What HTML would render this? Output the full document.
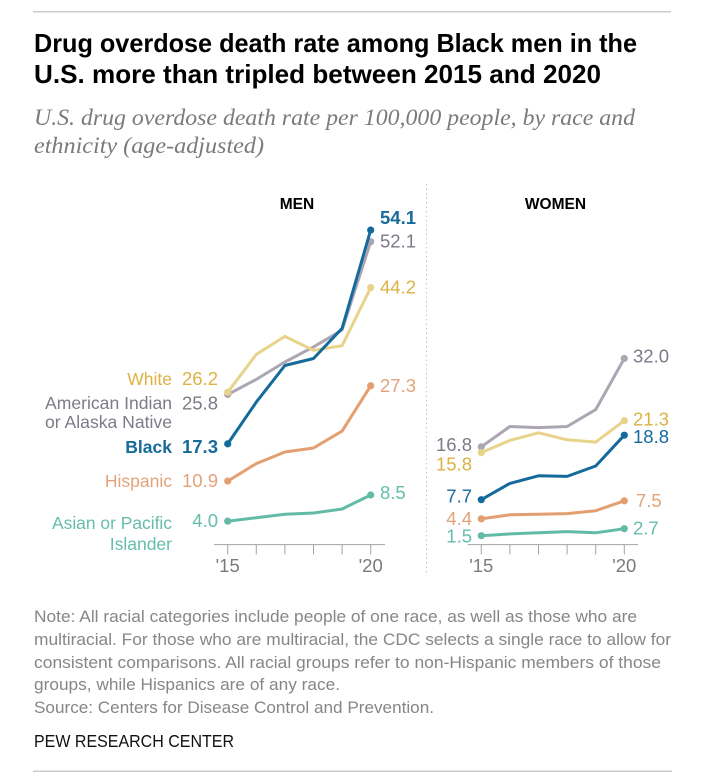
<!DOCTYPE html>
<html lang="en">
<head>
<meta charset="utf-8">
<title>Drug overdose death rate</title>
<style>
html,body{margin:0;padding:0;background:#fff;width:713px;height:782px;overflow:hidden}
svg{display:block}
text{font-family:"Liberation Sans",sans-serif}
.title{font-size:26px;font-weight:700;fill:#000}
.sub{font-family:"Liberation Serif",serif;font-style:italic;font-size:23px;fill:#7a7a7a}
.note{font-size:17px;fill:#868686}
.lab{font-size:17.5px}
.val{font-size:18.5px}
.tick{font-size:18.5px;fill:#7b7b7b}
.hdr{font-size:15.5px;font-weight:700;fill:#000;text-anchor:middle}
</style>
</head>
<body>
<svg id="chart" xmlns="http://www.w3.org/2000/svg" width="713" height="782" viewBox="0 0 713 782">
  <rect x="33" y="11" width="638" height="1.5" fill="#cccccc"/>
  <text class="title" x="34" y="52" textLength="603" lengthAdjust="spacingAndGlyphs">Drug overdose death rate among Black men in the</text>
  <text class="title" x="34" y="83" textLength="567" lengthAdjust="spacingAndGlyphs">U.S. more than tripled between 2015 and 2020</text>
  <text class="sub" x="34" y="125" textLength="601" lengthAdjust="spacingAndGlyphs">U.S. drug overdose death rate per 100,000 people, by race and</text>
  <text class="sub" x="34" y="153" textLength="230" lengthAdjust="spacingAndGlyphs">ethnicity (age-adjusted)</text>

  <text class="hdr" x="297" y="209">MEN</text>
  <text class="hdr" x="555.5" y="209">WOMEN</text>
  <line x1="426.5" y1="184" x2="426.5" y2="576" stroke="#c4c4c4" stroke-width="1" stroke-dasharray="1.5 3"/>

  <g id="axes"></g>
  <g id="marks"></g>
  <g id="values"></g>

  <g class="lab" text-anchor="end">
    <text x="172" y="385" fill="#dcb243">White</text>
    <text x="172" y="409" fill="#7f7989" textLength="127" lengthAdjust="spacingAndGlyphs">American Indian</text>
    <text x="172" y="428" fill="#7f7989" textLength="127" lengthAdjust="spacingAndGlyphs">or Alaska Native</text>
    <text x="172" y="453" fill="#176b9b" font-weight="700">Black</text>
    <text x="172" y="487" fill="#e3a37a">Hispanic</text>
    <text x="172" y="529" fill="#66bdaa" textLength="120" lengthAdjust="spacingAndGlyphs">Asian or Pacific</text>
    <text x="172" y="550" fill="#66bdaa">Islander</text>
  </g>

  <text class="note" x="34" y="622" textLength="603" lengthAdjust="spacingAndGlyphs">Note: All racial categories include people of one race, as well as those who are</text>
  <text class="note" x="34" y="645" textLength="637" lengthAdjust="spacingAndGlyphs">multiracial. For those who are multiracial, the CDC selects a single race to allow for</text>
  <text class="note" x="34" y="668" textLength="627" lengthAdjust="spacingAndGlyphs">consistent comparisons. All racial groups refer to non-Hispanic members of those</text>
  <text class="note" x="34" y="690" textLength="306" lengthAdjust="spacingAndGlyphs">groups, while Hispanics are of any race.</text>
  <text class="note" x="34" y="713" textLength="400" lengthAdjust="spacingAndGlyphs">Source: Centers for Disease Control and Prevention.</text>
  <text x="34" y="747" font-size="17.5" fill="#111" textLength="200" lengthAdjust="spacingAndGlyphs">PEW RESEARCH CENTER</text>
  <rect x="33" y="770.5" width="639" height="1.5" fill="#cccccc"/>
</svg>
<script>
const years = [2015, 2016, 2017, 2018, 2019, 2020];
const tickLabels = ["'15", "", "", "", "", "'20"];

const menAsian = [4.0, 4.6, 5.2, 5.4, 6.1, 8.5];
const menHispanic = [10.9, 13.9, 15.9, 16.6, 19.5, 27.3];
const menNative = [25.8, 28.4, 31.4, 34.0, 36.9, 52.1];
const menWhite = [26.2, 32.7, 35.8, 33.4, 34.2, 44.2];
const menBlack = [17.3, 24.5, 30.8, 32.0, 37.2, 54.1];

const womenAsian = [1.5, 1.8, 2.0, 2.2, 2.0, 2.7];
const womenHispanic = [4.4, 5.1, 5.2, 5.3, 5.8, 7.5];
const womenNative = [16.8, 20.3, 20.1, 20.3, 23.2, 32.0];
const womenWhite = [15.8, 17.9, 19.2, 18.0, 17.6, 21.3];
const womenBlack = [7.7, 10.5, 11.8, 11.7, 13.5, 18.8];

const NS = 'http://www.w3.org/2000/svg';
const axesG = document.getElementById('axes');
const marksG = document.getElementById('marks');
const valuesG = document.getElementById('values');

const baseY = 544.4;
const unit = 5.81;
function yScale(v) { return baseY - v * unit; }
function menX(year) { return 227.7 + (year - 2015) * 28.6; }
function womenX(year) { return 481.3 + (year - 2015) * 28.6; }

const palette = {
  asian: { line: '#63bba7', text: '#66bdaa' },
  hispanic: { line: '#e39f70', text: '#e3a37a' },
  native: { line: '#aca6b3', text: '#7f7989' },
  white: { line: '#e8d38a', text: '#dcb243' },
  black: { line: '#156a9c', text: '#176b9b' }
};

function drawAxis(name, xFn, x1, x2) {
  const axis = document.createElementNS(NS, 'line');
  
  
  axis.setAttribute('x1', x1);
  axis.setAttribute('x2', x2);
  axis.setAttribute('y1', baseY + 0.2);
  axis.setAttribute('y2', baseY + 0.2);
  axis.setAttribute('stroke', '#a3a3a3');
  axis.setAttribute('stroke-width', '1');
  axesG.appendChild(axis);
  years.forEach(function (year, i) {
    const tick = document.createElementNS(NS, 'line');
    
    
    tick.setAttribute('x1', xFn(year));
    tick.setAttribute('x2', xFn(year));
    tick.setAttribute('y1', baseY);
    tick.setAttribute('y2', baseY + 10);
    tick.setAttribute('stroke', '#a3a3a3');
    tick.setAttribute('stroke-width', '1');
    axesG.appendChild(tick);
    if (tickLabels[i]) {
      const label = document.createElementNS(NS, 'text');
      
      
      label.setAttribute('class', 'tick');
      label.setAttribute('x', xFn(year));
      label.setAttribute('y', 572);
      label.setAttribute('text-anchor', 'middle');
      label.textContent = tickLabels[i];
      axesG.appendChild(label);
    }
  });
}

function drawSeries(name, key, values, xFn, bold, startX, startNudge, endX, endNudge) {
  const style = palette[key];
  const line = document.createElementNS(NS, 'polyline');
  
  
  line.setAttribute('fill', 'none');
  line.setAttribute('stroke', style.line);
  line.setAttribute('stroke-width', '3');
  line.setAttribute('stroke-linejoin', 'round');
  line.setAttribute('points', values.map(function (v, i) {
    return xFn(years[i]).toFixed(1) + ',' + yScale(v).toFixed(1);
  }).join(' '));
  marksG.appendChild(line);

  [0, values.length - 1].forEach(function (i) {
    const dot = document.createElementNS(NS, 'circle');
    
    
    dot.setAttribute('cx', xFn(years[i]));
    dot.setAttribute('cy', yScale(values[i]));
    dot.setAttribute('r', '3.6');
    dot.setAttribute('fill', style.line);
    marksG.appendChild(dot);
  });

  const startLabel = document.createElementNS(NS, 'text');
  
  
  startLabel.setAttribute('class', 'val');
  startLabel.setAttribute('x', startX);
  startLabel.setAttribute('y', yScale(values[0]) + startNudge);
  startLabel.setAttribute('text-anchor', 'end');
  startLabel.setAttribute('fill', style.text);
  if (bold) startLabel.setAttribute('font-weight', '700');
  startLabel.textContent = values[0].toFixed(1);
  valuesG.appendChild(startLabel);

  const endLabel = document.createElementNS(NS, 'text');
  
  
  endLabel.setAttribute('class', 'val');
  endLabel.setAttribute('x', endX);
  endLabel.setAttribute('y', yScale(values[values.length - 1]) + endNudge);
  endLabel.setAttribute('fill', style.text);
  if (bold) endLabel.setAttribute('font-weight', '700');
  endLabel.textContent = values[values.length - 1].toFixed(1);
  valuesG.appendChild(endLabel);
}

drawAxis('men', menX, 214, 385);
drawAxis('women', womenX, 467.7, 638);

drawSeries('men-asian', 'asian', menAsian, menX, false, 218, 6, 380, 4);
drawSeries('men-hispanic', 'hispanic', menHispanic, menX, false, 218, 6, 380, 6);
drawSeries('men-native', 'native', menNative, menX, false, 218, 15, 380, 6);
drawSeries('men-white', 'white', menWhite, menX, false, 218, -7, 380, 6);
drawSeries('men-black', 'black', menBlack, menX, true, 218, 9, 380, -6);

drawSeries('women-asian', 'asian', womenAsian, womenX, false, 472, 7, 633, 6);
drawSeries('women-hispanic', 'hispanic', womenHispanic, womenX, false, 472, 6, 636, 6);
drawSeries('women-native', 'native', womenNative, womenX, false, 472, 4, 633, 4);
drawSeries('women-white', 'white', womenWhite, womenX, false, 472, 18, 633, 5);
drawSeries('women-black', 'black', womenBlack, womenX, false, 472, 3, 633, 8);
</script>
</body>
</html>
